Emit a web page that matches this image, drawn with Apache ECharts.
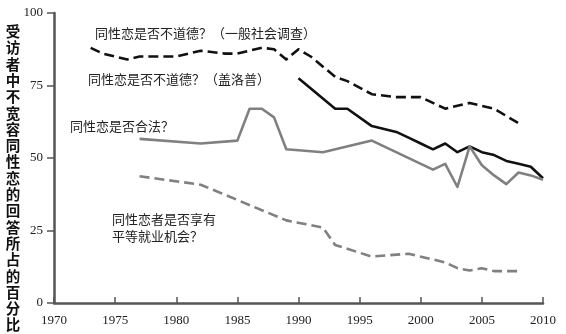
<!DOCTYPE html>
<html>
<head>
<meta charset="utf-8">
<script src="https://cdn.jsdelivr.net/npm/echarts@6/dist/echarts.min.js"></script>
<style>
  html, body { margin: 0; padding: 0; background: #fff; }
  #chart { width: 566px; height: 334px; }
</style>
</head>
<body>
<div id="chart"></div>
<script>
// Survey years and share of intolerant answers (%)
const gssYears = [1973, 1974, 1976, 1977, 1980, 1982, 1984, 1985, 1987, 1988, 1989, 1990, 1991, 1993, 1994, 1996, 1998, 2000, 2002, 2004, 2006, 2008];
const gssImmoral = [88, 86, 84, 85, 85, 87, 86, 86, 88, 87.5, 84, 87.5, 85, 78, 76.5, 72, 71, 71, 67, 69, 67, 62];

const gallupYears = [1990, 1993, 1994, 1996, 1997, 1998, 1999, 2000, 2001, 2002, 2003, 2004, 2005, 2006, 2007, 2008, 2009, 2010];
const gallupImmoral = [77.5, 67, 67, 61, 60, 59, 57, 55, 53, 55, 52, 54, 52, 51, 49, 48, 47, 43];

const legalYears = [1977, 1982, 1985, 1986, 1987, 1988, 1989, 1992, 1996, 2001, 2002, 2003, 2004, 2005, 2006, 2007, 2008, 2009, 2010];
const notLegal = [56.6, 55, 56, 67, 67, 64, 53, 52, 56, 46, 48, 40, 54, 47.5, 44, 41, 45, 44, 42.5];

const jobsYears = [1977, 1982, 1989, 1992, 1993, 1996, 1999, 2001, 2002, 2003, 2004, 2005, 2006, 2007, 2008];
const noEqualJobs = [43.7, 40.8, 28.5, 26, 20, 16, 17, 15, 14, 12, 11.2, 12, 11, 11, 11];

const yTicks = [0, 25, 50, 75, 100];
const xTicks = [1970, 1975, 1980, 1985, 1990, 1995, 2000, 2005, 2010];

const yTitle = '受访者中不宽容同性恋的回答所占的百分比';

const pairs = (xs, ys) => xs.map((x, i) => [x, ys[i]]);

const serif = '"Liberation Serif", "DejaVu Serif", serif';
const cjk = '"Noto Sans CJK SC", "Noto Sans", sans-serif';
const black = '#111';
const gray = '#808080';

const chart = echarts.init(document.getElementById('chart'), null, { renderer: 'canvas' });

const lineSeries = (name, data, color, dashed) => ({
  name,
  type: 'line',
  data,
  symbol: 'none',
  smooth: false,
  animation: false,
  lineStyle: { color, width: 2.6, type: dashed ? [10, 5] : 'solid', cap: 'butt', join: 'round' }
});

const annot = (text, x, y) => ({
  type: 'text',
  x,
  y,
  silent: true,
  style: {
    text, fontFamily: cjk, fontSize: 13, fill: '#222',
    lineHeight: 17, verticalAlign: 'top', align: 'left'
  }
});

// vertical axis title, one glyph per row
const titleGlyphs = yTitle.split('').map((ch, i) => ({
  type: 'text',
  x: 13,
  y: 31.5 + i * 16.3,
  silent: true,
  style: {
    text: ch, fontFamily: cjk, fontSize: 14.5, fontWeight: 'bold', fill: '#111',
    align: 'center', verticalAlign: 'middle'
  }
}));

chart.setOption({
  animation: false,
  backgroundColor: '#fff',
  grid: { left: 54, right: 23, top: 13, bottom: 31, containLabel: false },
  xAxis: {
    type: 'value',
    min: xTicks[0],
    max: xTicks[xTicks.length - 1],
    interval: 5,
    axisLine: { show: true, lineStyle: { color: '#555', width: 2.5 } },
    axisTick: { show: true, inside: true, length: 6, lineStyle: { color: '#555', width: 1.5 } },
    axisLabel: {
      color: '#222', fontFamily: serif, fontSize: 13, margin: 11,
      formatter: v => String(v)
    },
    splitLine: { show: false }
  },
  yAxis: {
    type: 'value',
    min: yTicks[0],
    max: yTicks[yTicks.length - 1],
    interval: 25,
    axisLine: { show: true, lineStyle: { color: '#555', width: 2.5 } },
    axisTick: { show: true, inside: false, length: 7, lineStyle: { color: '#555', width: 1.5 } },
    axisLabel: { color: '#222', fontFamily: serif, fontSize: 13, margin: 11 },
    splitLine: { show: false }
  },
  series: [
    lineSeries('GSS', pairs(gssYears, gssImmoral), black, true),
    lineSeries('Gallup', pairs(gallupYears, gallupImmoral), black, false),
    lineSeries('Legal', pairs(legalYears, notLegal), gray, false),
    lineSeries('Jobs', pairs(jobsYears, noEqualJobs), gray, true)
  ],
  graphic: titleGlyphs.concat([
    annot('同性恋是否不道德？（一般社会调查）', 95, 25),
    annot('同性恋是否不道德？（盖洛普）', 88, 71),
    annot('同性恋是否合法？', 70, 118),
    annot('同性恋者是否享有\n平等就业机会？', 112, 211)
  ])
});
</script>
</body>
</html>
